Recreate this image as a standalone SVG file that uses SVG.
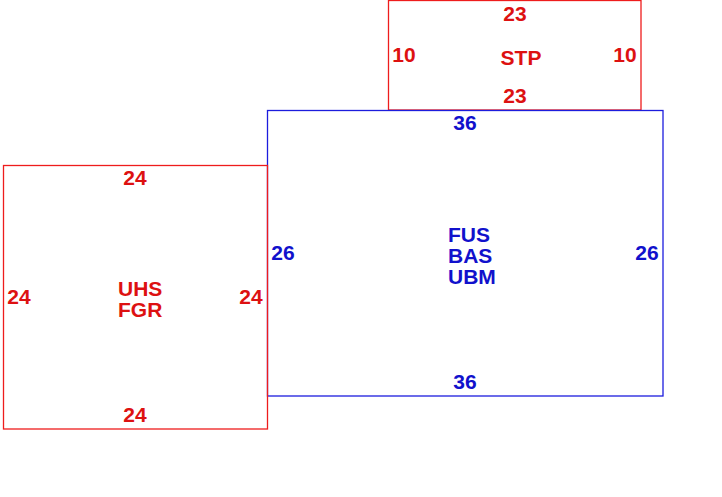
<svg xmlns="http://www.w3.org/2000/svg" width="722" height="497" viewBox="0 0 722 497">
<style>
text{font-family:"Liberation Sans",Arial,sans-serif;font-weight:bold;font-size:21px}
.r{fill:#dd1111}
.b{fill:#1111cc}
.m{text-anchor:middle}
.rr{fill:none;stroke:#ee1c1c;stroke-width:1.3}
.br{fill:none;stroke:#1c1cdd;stroke-width:1.3}
</style>
<rect width="722" height="497" fill="#ffffff"/>
<g id="stp">
<rect class="rr" x="388.5" y="0.5" width="252.5" height="109.5"/>
<text class="r m" x="515" y="21">23</text>
<text class="r m" x="515" y="103">23</text>
<text class="r m" x="404" y="62">10</text>
<text class="r m" x="625" y="62">10</text>
<text class="r m" x="521" y="65">STP</text>
</g>
<g id="fus">
<rect class="br" x="267.5" y="110.5" width="395.5" height="285.5"/>
<text class="b m" x="465" y="130">36</text>
<text class="b m" x="465" y="389">36</text>
<text class="b m" x="283" y="260">26</text>
<text class="b m" x="647" y="260">26</text>
<text class="b" x="448" y="242">FUS</text>
<text class="b" x="448" y="263">BAS</text>
<text class="b" x="448" y="284">UBM</text>
</g>
<g id="uhs">
<rect class="rr" x="3.5" y="165.5" width="264" height="263.5"/>
<text class="r m" x="135" y="185">24</text>
<text class="r m" x="135" y="422">24</text>
<text class="r m" x="19" y="304">24</text>
<text class="r m" x="251" y="304">24</text>
<text class="r" x="118" y="296">UHS</text>
<text class="r" x="118" y="317">FGR</text>
</g>
<g id="connectors"></g>
</svg>
